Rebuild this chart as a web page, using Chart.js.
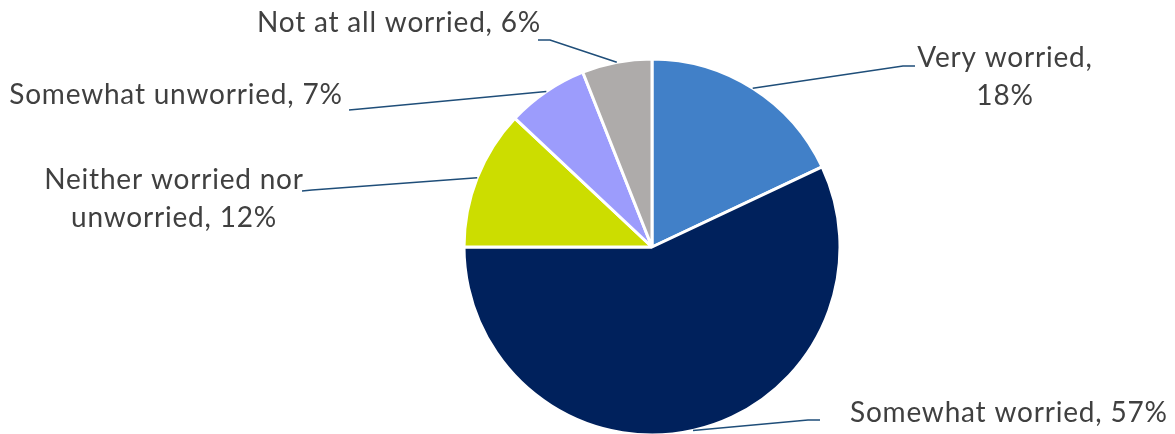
<!DOCTYPE html>
<html>
<head>
<meta charset="utf-8">
<script src="https://cdn.jsdelivr.net/npm/chart.js@4/dist/chart.umd.min.js"></script>
<style>
  html, body { margin: 0; padding: 0; background: #ffffff; }
  #wrap { width: 1175px; height: 434px; position: relative; }
</style>
</head>
<body>
<div id="wrap"><canvas id="c" width="1175" height="434"></canvas></div>
<script>
// ---- data ----
const categories = ["Very worried", "Somewhat worried", "Neither worried nor unworried", "Somewhat unworried", "Not at all worried"];
const values = [18, 57, 12, 7, 6];
const labelLines = [
  ["Very worried,", "18%"],
  ["Somewhat worried, 57%"],
  ["Neither worried nor", "unworried, 12%"],
  ["Somewhat unworried, 7%"],
  ["Not at all worried, 6%"]
];

// ---- styles / layout ----
const colors = ["#4180C8", "#00215C", "#CCDD00", "#9C9CFC", "#AEABAA"];
// elbow: where the leader line bends; end: where it meets the text; text: anchor for text block
const labelLayout = [
  { elbow: [903, 66], end: [915, 66], textX: 1005, baseline: 67, align: "center" },
  { elbow: [808, 420], end: [820, 420], textX: 850, baseline: 422, align: "left" },
  { elbow: [312, 190], end: [302, 191], textX: 174, baseline: 189, align: "center" },
  { elbow: [360, 109], end: [349, 110], textX: 176, baseline: 104, align: "center" },
  { elbow: [550, 40], end: [538, 40], textX: 399, baseline: 32, align: "center" }
];
const FONT = '28px Lato';
const LETTER_SPACING = '0.8px';
const LINE_H = 38;

const leaderPlugin = {
  id: 'leaders',
  afterDatasetsDraw(chart) {
    const ctx = chart.ctx;
    const meta = chart.getDatasetMeta(0);
    ctx.save();
    meta.data.forEach((arc, i) => {
      const p = arc.getProps(['x', 'y', 'startAngle', 'endAngle', 'outerRadius'], true);
      const mid = (p.startAngle + p.endAngle) / 2;
      const sx = p.x + Math.cos(mid) * p.outerRadius;
      const sy = p.y + Math.sin(mid) * p.outerRadius;
      const L = labelLayout[i];
      ctx.strokeStyle = '#1F4E79';
      ctx.lineWidth = 1.6;
      ctx.beginPath();
      ctx.moveTo(sx, sy);
      ctx.lineTo(L.elbow[0], L.elbow[1]);
      ctx.lineTo(L.end[0], L.end[1]);
      ctx.stroke();
      ctx.fillStyle = '#404040';
      ctx.font = FONT;
      if ('letterSpacing' in ctx) ctx.letterSpacing = LETTER_SPACING;
      ctx.textAlign = L.align;
      ctx.textBaseline = 'alphabetic';
      labelLines[i].forEach((t, k) => {
        ctx.fillText(t, L.textX, L.baseline + k * LINE_H);
      });
    });
    ctx.restore();
  }
};

new Chart(document.getElementById('c'), {
  type: 'pie',
  data: {
    labels: categories,
    datasets: [{
      data: values,
      backgroundColor: colors,
      borderColor: '#ffffff',
      borderWidth: 3,
      clip: false
    }]
  },
  options: {
    responsive: false,
    animation: false,
    radius: 188,
    layout: { padding: { left: 129, right: 0, top: 60, bottom: 0 } },
    plugins: { legend: { display: false }, tooltip: { enabled: false } },
    events: []
  },
  plugins: [leaderPlugin]
});
</script>
</body>
</html>
